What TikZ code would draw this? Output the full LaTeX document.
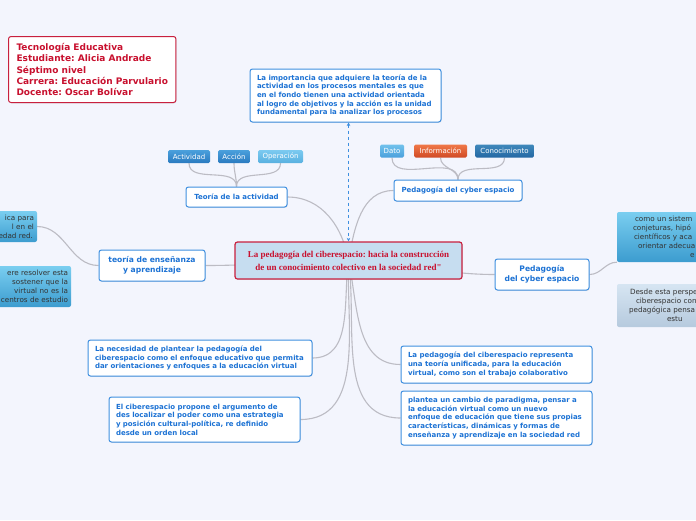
\documentclass[tikz,border=0pt]{standalone}
\usepackage{fontspec}
\setsansfont{DejaVu Sans}
\newfontfamily\rootfont{Liberation Serif}
\usepackage{tikz}
\usetikzlibrary{arrows.meta, positioning, shadows}
\usepackage{xcolor}
\frenchspacing

\definecolor{pagebg}{HTML}{F3F5FD}
\definecolor{txtblue}{HTML}{1C72D4}
\definecolor{boxblue}{HTML}{3E8FE0}
\definecolor{txtred}{HTML}{C8102E}
\definecolor{redline}{HTML}{C8203E}
\definecolor{rootfill}{HTML}{C6DDF0}
\definecolor{linkgrey}{HTML}{BCBCC4}
\definecolor{tagtop}{HTML}{4AA0DC}
\definecolor{tagbot}{HTML}{2A7AC0}
\definecolor{lighttop}{HTML}{7CCAF0}
\definecolor{lightbot}{HTML}{58B0E0}
\definecolor{orgtop}{HTML}{F07848}
\definecolor{orgbot}{HTML}{D04A25}
\definecolor{cuttop}{HTML}{7ACEF0}
\definecolor{cutbot}{HTML}{3C9CCF}
\definecolor{palettop}{HTML}{D6E5F2}
\definecolor{palebot}{HTML}{B6CADE}
\pgfdeclarelayer{back}
\pgfdeclarelayer{links}
\pgfsetlayers{back,links,main}

\begin{document}
\begin{tikzpicture}[x=1pt, y=-1pt,
  box/.style={rectangle, draw=boxblue, line width=1pt, fill=white, rounded corners=2.5pt, text=txtblue, font=\sffamily\bfseries\fontsize{7}{8.6}\selectfont, align=left, inner xsep=7pt, drop shadow={shadow xshift=0.6pt, shadow yshift=-0.8pt, opacity=0.2}},
  topic/.style={box, align=center, font=\sffamily\bfseries\fontsize{7.6}{9.8}\selectfont},
  tag/.style={rectangle, rounded corners=1.5pt, text=white, font=\sffamily\fontsize{7}{7}\selectfont, minimum height=13pt, inner xsep=1pt, inner ysep=0pt, top color=tagtop, bottom color=tagbot},
  cut/.style={rectangle, rounded corners=2pt, font=\sffamily\fontsize{7.2}{9}\selectfont, text=black!80, inner xsep=3pt, top color=cuttop, bottom color=cutbot},
  link/.style={draw=linkgrey, line width=1.1pt},
  dlink/.style={{Stealth[length=3.5pt, width=3.5pt]}-{Stealth[length=3.5pt, width=3.5pt]}, dashed, draw=boxblue, line width=0.7pt},
]
\useasboundingbox (0,0) rectangle (696,520);
\begin{pgfonlayer}{back}
  \fill[pagebg] (0,0) rectangle (696,520);
\end{pgfonlayer}
\clip (0,0) rectangle (696,520);

% datos del curso
\node[box, draw=redline, text=txtred, inner xsep=8pt, minimum width=166pt, minimum height=66pt, anchor=north west, font=\sffamily\bfseries\fontsize{9}{11.3}\selectfont] (info) at (8,36) {Tecnología Educativa\\Estudiante: Alicia Andrade\\Séptimo nivel\\Carrera: Educación Parvulario\\Docente: Oscar Bolívar};

% nodo central
\node[box, draw=redline, fill=rootfill, line width=1.2pt, text=txtred, align=center, minimum width=227pt, minimum height=37pt, font=\rootfont\bfseries\fontsize{9}{13}\selectfont] (root) at (348.5,260.5) {La pedagogía del ciberespacio: hacia la construcción\\de un conocimiento colectivo en la sociedad red"};

\node[box, text width=177pt, minimum height=53pt] (imp) at (345.5,95.5) {La importancia que adquiere la teoría de la\\actividad en los procesos mentales es que\\en el fondo tienen una actividad orientada\\al logro de objetivos y la acción es la unidad\\fundamental para la analizar los procesos};

% teoria de la actividad
\node[box, align=center, minimum width=101pt, minimum height=20pt] (tact) at (236.5,197) {Teoría de la actividad};
\node[tag, minimum width=42pt] (actv) at (189,156.5) {Actividad};
\node[tag, minimum width=32pt] (accion) at (234,156.5) {Acción};
\node[tag, top color=lighttop, bottom color=lightbot, minimum width=45pt] (oper) at (280.5,156.5) {Operación};

% pedagogia del cyber espacio (arriba)
\node[box, align=center, minimum width=128pt, minimum height=21pt] (pedtop) at (458,190.5) {Pedagogía del cyber espacio};
\node[tag, top color=lighttop!80!tagtop, bottom color=tagtop, minimum width=24pt] (dato) at (392,151) {Dato};
\node[tag, top color=orgtop, bottom color=orgbot, minimum width=53pt] (infor) at (440.5,151) {Información};
\node[tag, top color=tagtop!85!black, bottom color=tagbot!85!black, minimum width=59pt] (conoc) at (504.5,151) {Conocimiento};

% teoria de ensenanza
\node[topic, minimum width=106pt, minimum height=31pt] (ensen) at (152,265.5) {teoría de enseñanza\\y aprendizaje};
\node[cut, text width=114pt, minimum height=31pt, align=right] (leftA) at (-23,226.5) {ica para\hspace*{4pt}\\l en el\hspace*{12pt}\\edad red.\hspace*{1pt}};
\node[cut, text width=144pt, minimum height=41pt, align=right] (leftB) at (-4,286.5) {ere resolver esta\hspace*{1pt}\\sostener que la\hspace*{9pt}\\virtual no es la\hspace*{12pt}\\centros de estudio};

% pedagogia del cyber espacio (derecha)
\node[topic, minimum width=94pt, minimum height=31pt] (pedright) at (542,274.5) {Pedagogía\\del cyber espacio};
\node[cut, minimum height=50pt, align=left, text width=144pt] (rightA) at (692,237) {\hspace*{15pt}como un sistem\\\hspace*{13pt}conjeturas, hipó\\\hspace*{14pt}científicos y aca\\\hspace*{18pt}orientar adecua\\\hspace*{70pt}e};
\node[cut, top color=palettop, bottom color=palebot, minimum height=43pt, align=left, text width=144pt] (rightB) at (692,305.5) {\hspace*{10pt}Desde esta perspe\\\hspace*{16pt}ciberespacio cons\\\hspace*{9pt}pedagógica pensa\\\hspace*{47pt}estu};

% ideas principales
\node[box, text width=210pt, minimum height=36pt] (need) at (200,358) {La necesidad de plantear la pedagogía del\\ciberespacio como el enfoque educativo que permita\\dar orientaciones y enfoques a la educación virtual};
\node[box, text width=177pt, minimum height=45pt] (cyber) at (204.5,419.5) {El ciberespacio propone el argumento de\\des localizar el poder como una estrategia\\y posición cultural-política, re definido\\desde un orden local};
\node[box, text width=177pt, minimum height=37pt] (unif) at (496.5,364.5) {La pedagogía del ciberespacio representa\\una teoría unificada, para la educación\\virtual, como son el trabajo colaborativo};
\node[box, text width=177pt, minimum height=54pt] (parad) at (496.5,418) {plantea un cambio de paradigma, pensar a\\la educación virtual como un nuevo\\enfoque de educación que tiene sus propias\\características, dinámicas y formas de\\enseñanza y aprendizaje en la sociedad red};

\begin{pgfonlayer}{links}
  \draw[link] (root.center) to[out=100, in=0] (tact.east);
  \draw[link] (root.center) to[out=80, in=180] (pedtop.west);
  \draw[link] (root.center) to[out=180, in=0] (ensen.east);
  \draw[link] (root.center) to[out=0, in=180] (pedright.west);
  \draw[link] (root.center) to[out=262, in=0] (need.east);
  \draw[link] (root.center) to[out=268, in=0] (cyber.east);
  \draw[link] (root.center) to[out=282, in=180] (unif.west);
  \draw[link] (root.center) to[out=278, in=180] (parad.west);
  \draw[link] (tact.north) to[out=90, in=270] (actv.south);
  \draw[link] (tact.north) to[out=90, in=270] (accion.south);
  \draw[link] (tact.north) to[out=90, in=270] (oper.south);
  \draw[link] (pedtop.north) to[out=90, in=270] (dato.south);
  \draw[link] (pedtop.north) to[out=90, in=270] (infor.south);
  \draw[link] (pedtop.north) to[out=90, in=270] (conoc.south);
  \draw[link] (ensen.west) to[out=180, in=0] (leftA.east);
  \draw[link] (pedright.east) to[out=0, in=180] (rightA.south west);
\end{pgfonlayer}
\draw[dlink] (imp.south -| root.north) -- (root.north);

\end{tikzpicture}
\end{document}
